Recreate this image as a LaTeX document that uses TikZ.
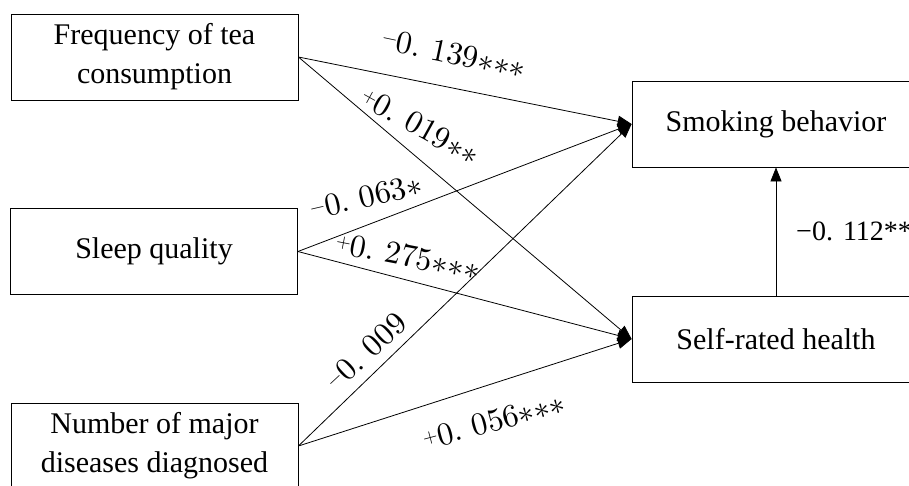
\RequirePackage{fix-cm}
\documentclass[tikz,border=0pt]{standalone}
\usepackage{fontspec}
\setmainfont{Liberation Serif}
\newfontfamily\lmr[Extension=.otf]{lmroman10-regular}
\usetikzlibrary{arrows.meta}
\newcommand\sgm{\raisebox{6pt}{\fontsize{19pt}{19pt}\selectfont −}}
\newcommand\sgp{\raisebox{6pt}{\fontsize{19pt}{19pt}\selectfont +}}
\newcommand\stt{${*}{*}{*}$}
\newcommand\st{${*}{*}$}
\tikzset{
  box/.style={draw, line width=0.8pt, minimum width=287pt, minimum height=86pt, inner sep=0pt, align=center, font=\fontsize{30pt}{39pt}\selectfont},
  arr/.style={line width=0.8pt, -{Triangle[length=14pt,width=11pt]}},
  lab/.style={inner sep=0pt, font=\lmr\fontsize{32pt}{32pt}\selectfont}
}
\begin{document}
\begin{tikzpicture}[x=1pt,y=-1pt]
\useasboundingbox (0,0) rectangle (909,485);
\node[box] (f) at (154.5,57) {Frequency of tea\\consumption};
\node[box] (s) at (154,251.5) {Sleep quality};
\node[box] (n) at (154.5,446) {Number of major\\diseases diagnosed};
\node[box, minimum width=288pt] (sm) at (776,124) {Smoking behavior};
\node[box, minimum width=288pt] (sr) at (776,339) {Self-rated health};
\draw[arr] (f.east) -- (sm.west);
\draw[arr] (f.east) -- (sr.west);
\draw[arr] (s.east) -- (sm.west);
\draw[arr] (s.east) -- (sr.west);
\draw[arr] (n.east) -- (sm.west);
\draw[arr] (n.east) -- (sr.west);
\draw[arr] (sr.north) -- (sm.south);
\node[lab, rotate=-12] (l1) at (454,54) {\sgm0.\ 139\stt};
\node[lab, rotate=-29] (l2) at (420,126) {\sgp0.\ 019\st};
\node[lab, rotate=13] (l3) at (366,197) {\sgm0.\ 063${*}$};
\node[lab, rotate=-11] (l4) at (408,256) {\sgp0.\ 275\stt};
\node[lab, rotate=43] (l5) at (366,352) {\sgm0.\ 009};
\node[lab, rotate=15] (l6) at (494,421) {\sgp0.\ 056\stt};
\node[anchor=base west, inner sep=0pt, font=\fontsize{28pt}{28pt}\selectfont] (l7) at (796,240) {−0.\hspace{10pt}112**};
\end{tikzpicture}
\end{document}
